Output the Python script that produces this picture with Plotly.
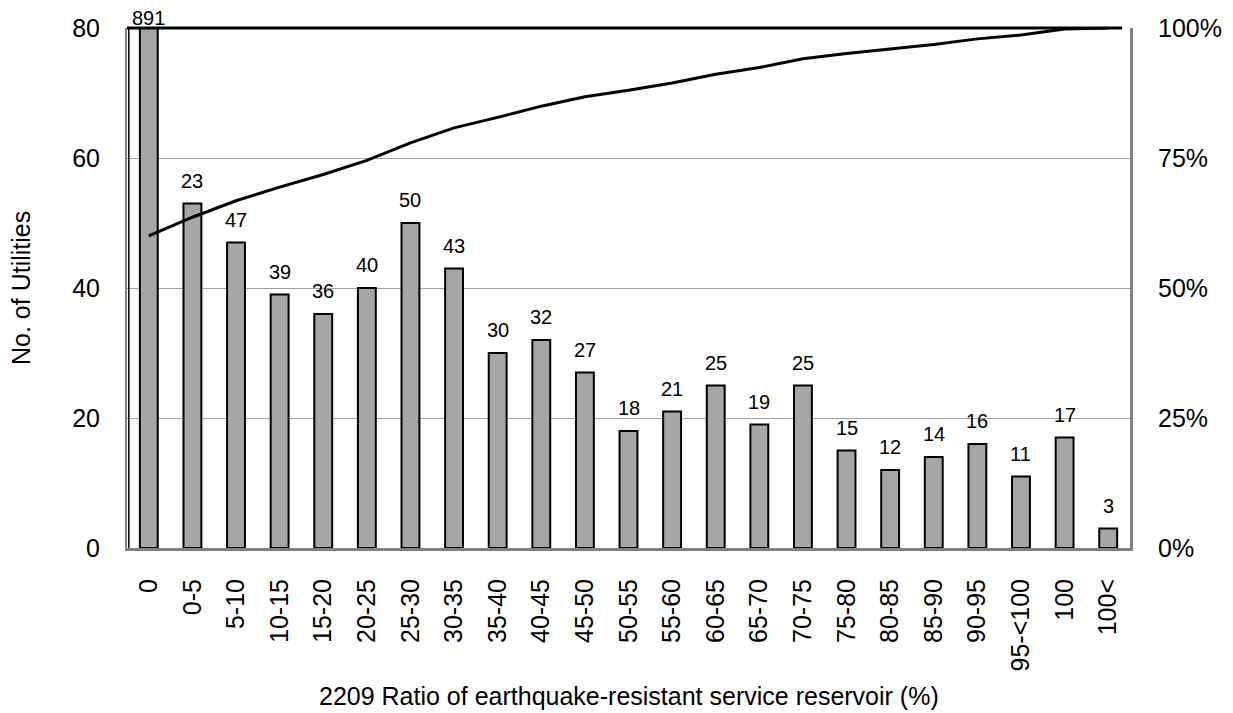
import plotly.graph_objects as go

categories = ["0", "0-5", "5-10", "10-15", "15-20", "20-25", "25-30", "30-35", "35-40",
              "40-45", "45-50", "50-55", "55-60", "60-65", "65-70", "70-75", "75-80",
              "80-85", "85-90", "90-95", "95-<100", "100", "100<"]
bar_values = [891, 53, 47, 39, 36, 40, 50, 43, 30, 32, 27, 18, 21, 25, 19, 25, 15, 12, 14, 16, 11, 17, 3]
bar_labels = ["891", "23", "47", "39", "36", "40", "50", "43", "30", "32", "27", "18", "21", "25",
              "19", "25", "15", "12", "14", "16", "11", "17", "3"]
cumulative_pct = [60.04, 63.61, 66.78, 69.41, 71.83, 74.53, 77.90, 80.80, 82.82, 84.97, 86.79,
                  88.01, 89.42, 91.11, 92.39, 94.07, 95.08, 95.89, 96.83, 97.91, 98.65, 99.80, 100.0]
left_ticks = [0, 20, 40, 60, 80]
right_ticks = [0, 25, 50, 75, 100]
right_tick_text = ["0%", "25%", "50%", "75%", "100%"]

Y_MAX = 80
FONT = "Liberation Sans, Arial, sans-serif"

fig = go.Figure()
fig.add_trace(go.Bar(
    x=categories, y=bar_values,
    marker=dict(color="#a6a6a6", line=dict(color="#000000", width=2)),
    showlegend=False, hoverinfo="skip",
))
fig.add_trace(go.Scatter(
    x=categories, y=cumulative_pct, mode="lines", yaxis="y2",
    line=dict(color="#000000", width=3), cliponaxis=False, showlegend=False,
))

# category axis: annotations addressed by category index
for idx, (val, lab) in enumerate(zip(bar_values, bar_labels)):
    fig.add_annotation(
        x=idx, y=min(val, Y_MAX), xref="x", yref="y", text=lab, showarrow=False,
        yanchor="bottom", yshift=(10 if val <= Y_MAX else -3),
        font=dict(family=FONT, size=20, color="#000000"),
    )

fig.add_annotation(
    text="2209 Ratio of earthquake-resistant service reservoir (%)",
    xref="paper", yref="paper", x=0.5, y=-0.285, xanchor="center", yanchor="middle",
    showarrow=False, font=dict(family=FONT, size=25, color="#000000"),
)
fig.add_annotation(
    text="No. of Utilities", textangle=-90,
    xref="paper", yref="paper", x=-0.1057, y=0.5, xanchor="center", yanchor="middle",
    showarrow=False, font=dict(family=FONT, size=25, color="#000000"),
)

fig.update_layout(
    width=1225, height=705,
    margin=dict(l=119, r=103, t=20, b=165, autoexpand=False),
    paper_bgcolor="white", plot_bgcolor="white",
    font=dict(family=FONT, color="#000000"),
    bargap=0.59,
    xaxis=dict(
        type="category", categoryorder="array", categoryarray=categories,
        range=[-0.5, len(categories) - 0.5], automargin=False,
        tickangle=-90, tickfont=dict(size=25), tickmode="array", tickvals=categories,
        showline=True, linecolor="#808080", linewidth=3,
        ticks="", showgrid=False, ticklabelstandoff=18,
    ),
    yaxis=dict(
        range=[0, Y_MAX], tickvals=left_ticks, tickfont=dict(size=25), automargin=False,
        showgrid=True, gridcolor="#a0a0a0", gridwidth=1,
        showline=True, linecolor="#808080", linewidth=2, zeroline=False,
        ticks="", ticklabelstandoff=20,
    ),
    yaxis2=dict(
        overlaying="y", side="right", range=[0, 100], automargin=False,
        tickvals=right_ticks, ticktext=right_tick_text,
        tickfont=dict(size=25), showgrid=False, zeroline=False,
        showline=True, linecolor="#808080", linewidth=3, ticks="",
        ticklabelstandoff=20,
    ),
)
# plot-area border: black top edge and inner black left edge
fig.add_shape(type="line", xref="paper", yref="paper", x0=0, x1=0.992, y0=1, y1=1,
              line=dict(color="#000000", width=3))
fig.add_shape(type="line", xref="paper", yref="paper", x0=0.0018, x1=0.0018, y0=0, y1=1,
              line=dict(color="#000000", width=1.5))

fig.write_html("out.html")
